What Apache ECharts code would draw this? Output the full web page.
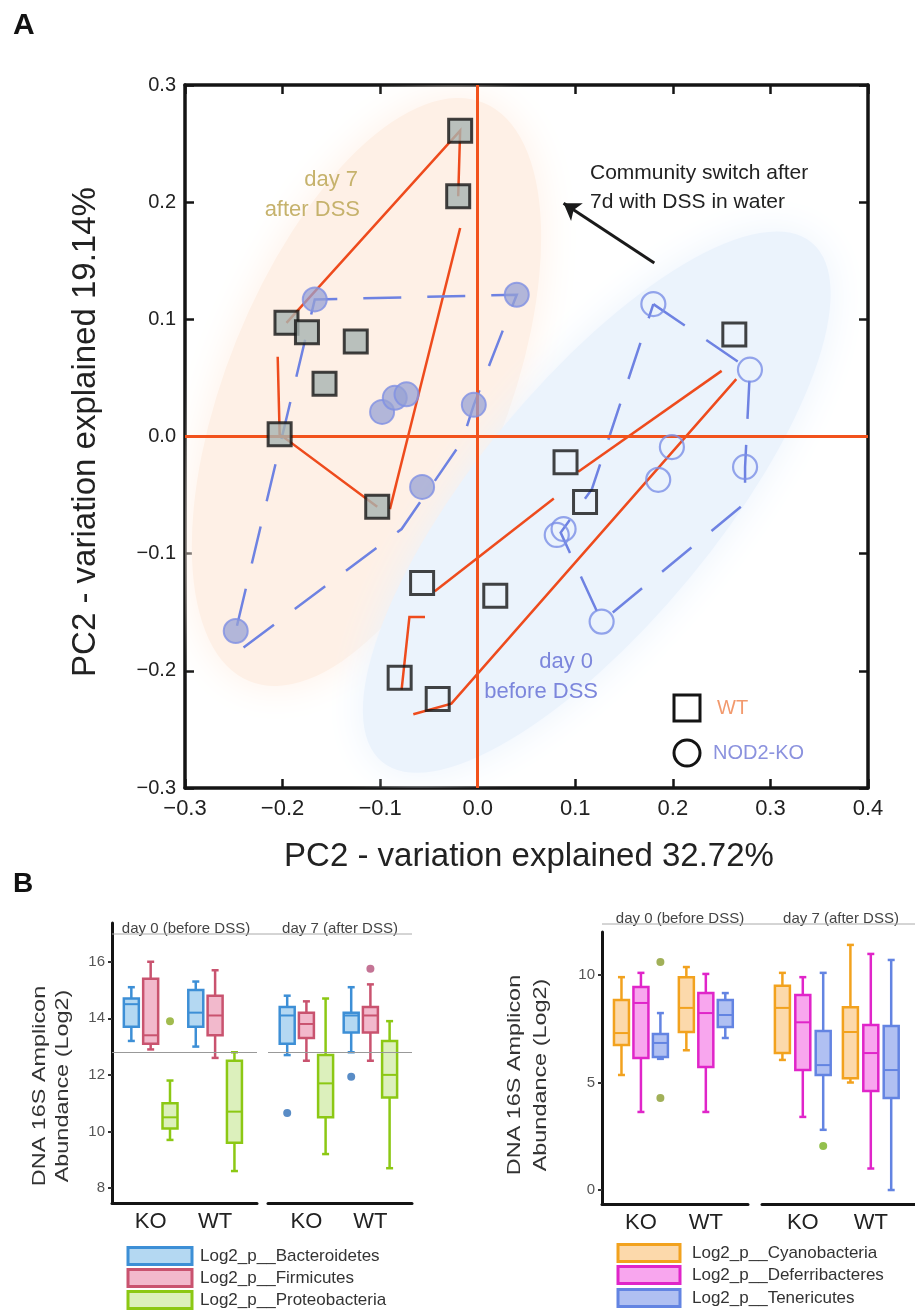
<!DOCTYPE html>
<html>
<head>
<meta charset="utf-8">
<script src="https://cdn.jsdelivr.net/npm/echarts@6/dist/echarts.min.js"></script>
<style>
  html, body { margin: 0; padding: 0; background: #fff; }
  #chart { width: 915px; height: 1311px; }
</style>
</head>
<body>
<div id="chart"></div>
<script>
// ---------- panel A : PCoA coordinates ----------
const wtDay7 = [[-0.018, 0.261], [-0.02, 0.205], [-0.196, 0.097], [-0.175, 0.089], [-0.125, 0.081],
  [-0.157, 0.045], [-0.203, 0.002], [-0.103, -0.06]];
const wtDay0 = [[0.263, 0.087], [0.09, -0.022], [0.11, -0.056], [0.018, -0.136], [-0.057, -0.125],
  [-0.08, -0.206], [-0.041, -0.224]];
const koDay7 = [[-0.167, 0.117], [0.04, 0.121], [-0.004, 0.027], [-0.098, 0.021], [-0.085, 0.033],
  [-0.073, 0.036], [-0.057, -0.043], [-0.248, -0.166]];
const koDay0 = [[0.18, 0.113], [0.279, 0.057], [0.199, -0.009], [0.274, -0.026], [0.185, -0.037],
  [0.088, -0.079], [0.081, -0.084], [0.127, -0.158]];
// WT paths (red) and KO outlines (blue dashed)
const wtLinks = [
  [[-0.196, 0.097], [-0.018, 0.261], [-0.02, 0.205]],
  [[-0.018, 0.178], [-0.09, -0.062]],
  [[-0.205, 0.068], [-0.203, 0.002], [-0.103, -0.06]],
  [[0.103, -0.03], [0.25, 0.056]],
  [[-0.044, -0.132], [0.078, -0.053]],
  [[0.265, 0.049], [-0.027, -0.228], [-0.066, -0.237]],
  [[-0.054, -0.154], [-0.07, -0.154], [-0.078, -0.216]]
];
const koDay7Outline = [[-0.24, -0.18], [-0.078, -0.079], [-0.016, -0.004], [-0.004, 0.027], [0.04, 0.121],
  [-0.167, 0.117], [-0.248, -0.166]];
const koDay0Outline = [[0.18, 0.113], [0.279, 0.057], [0.274, -0.026], [0.274, -0.057], [0.127, -0.158],
  [0.085, -0.082], [0.117, -0.045], [0.18, 0.113]];
const day7Centroid = [-0.114, 0.038];
const day0Centroid = [0.122, -0.056];
const switchArrow = [[0.181, 0.148], [0.088, 0.199]];
const pcTicks = { xMin: -0.3, xMax: 0.4, yMin: -0.3, yMax: 0.3, step: 0.1 };

// ---------- panel B : boxplots [low, q1, median, q3, high], rows = KO, WT ----------
const groupLabels = ['KO', 'WT'];
const bactDay0 = [[13.2, 13.7, 14.5, 14.7, 15.1], [13.0, 13.7, 14.2, 15.0, 15.3]];
const firmDay0 = [[12.9, 13.1, 13.4, 15.4, 16.0], [12.6, 13.4, 14.1, 14.8, 15.7]];
const protDay0 = [[9.7, 10.1, 10.5, 11.0, 11.8], [8.6, 9.6, 10.7, 12.5, 12.8]];
const bactDay7 = [[12.7, 13.1, 14.1, 14.4, 14.8], [12.8, 13.5, 14.1, 14.2, 15.1]];
const firmDay7 = [[12.5, 13.3, 13.8, 14.2, 14.6], [12.5, 13.5, 14.1, 14.4, 15.2]];
const protDay7 = [[9.2, 10.5, 11.7, 12.7, 14.7], [8.7, 11.2, 12.0, 13.2, 13.9]];
const protDay0Out = [[0, 13.9]];
const bactDay7Out = [[0, 10.65], [1, 11.93]];
const firmDay7Out = [[1, 15.75]];
const leftRefLine = 12.8;
const leftTicks = [8, 10, 12, 14, 16];

const cyanoDay0 = [[5.35, 6.74, 7.3, 8.84, 9.9], [6.5, 7.35, 8.47, 9.9, 10.37]];
const deferDay0 = [[3.63, 6.14, 8.7, 9.44, 10.1], [3.63, 5.72, 8.23, 9.16, 10.05]];
const teneDay0 = [[6.1, 6.19, 6.84, 7.26, 8.23], [7.07, 7.58, 8.14, 8.84, 9.16]];
const cyanoDay7 = [[6.05, 6.37, 8.47, 9.5, 10.1], [5.0, 5.2, 7.35, 8.5, 11.4]];
const deferDay7 = [[3.4, 5.58, 7.8, 9.07, 9.9], [1.0, 4.6, 6.37, 7.67, 10.98]];
const teneDay7 = [[2.8, 5.35, 5.81, 7.4, 10.1], [0.0, 4.28, 5.58, 7.63, 10.7]];
const teneDay0Out = [[0, 10.6], [0, 4.28]];
const teneDay7Out = [[0, 2.05]];
const rightTicks = [0, 5, 10];

const FONT = '"Liberation Sans", Arial, sans-serif';
const trio = [-0.3, 0, 0.3];
const colors = {
  bact: { line: '#3d8fd6', fill: '#b4d8f2' },
  firm: { line: '#c9536f', fill: '#f2b9cc' },
  prot: { line: '#8cc814', fill: '#dcf0bc' },
  cyano: { line: '#f2a21e', fill: '#fcd9ab' },
  defer: { line: '#e025c9', fill: '#f8a6ee' },
  tene: { line: '#6384e2', fill: '#b0c0f2' }
};

const chart = echarts.init(document.getElementById('chart'));

const fmtPC = v => (v < -1e-9 ? '\u2212' : '') + Math.abs(v).toFixed(1);

function pcAxis(pos, isX, showLabel) {
  return {
    gridIndex: 0, type: 'value', position: pos,
    min: isX ? pcTicks.xMin : pcTicks.yMin, max: isX ? pcTicks.xMax : pcTicks.yMax, interval: pcTicks.step,
    axisLine: { show: true, onZero: false, lineStyle: { color: '#141414', width: 3.5 } },
    axisTick: { show: true, inside: true, length: 9, lineStyle: { color: '#141414', width: 2.5 } },
    axisLabel: { show: showLabel, formatter: fmtPC, color: '#222', fontFamily: FONT,
      fontSize: isX ? 22 : 20, margin: isX ? 10 : 9, showMinLabel: true, showMaxLabel: true },
    splitLine: { show: false }
  };
}

function facetX(gi) {
  return {
    gridIndex: gi, type: 'value', min: -0.6, max: 1.65,
    axisLine: { show: true, onZero: false, lineStyle: { color: '#141414', width: 3 } },
    axisTick: { show: false }, splitLine: { show: false },
    axisLabel: { customValues: [0, 1], formatter: v => groupLabels[Math.round(v)],
      color: '#222', fontSize: 22, fontFamily: FONT, margin: 8 }
  };
}

function facetY(gi, min, max, ticks, show) {
  return {
    gridIndex: gi, type: 'value', min: min, max: max, show: show,
    axisLine: { show: true, onZero: false, lineStyle: { color: '#141414', width: 3 } },
    axisTick: { show: true, customValues: ticks, length: 4, lineStyle: { color: '#333', width: 2 } },
    axisLabel: { customValues: ticks, color: '#555', fontSize: 15, fontFamily: FONT, margin: 7 },
    splitLine: { show: false }
  };
}

function boxSeries(ax, rows, slot, col) {
  return {
    type: 'custom', xAxisIndex: ax, yAxisIndex: ax, z: 3, silent: true,
    data: rows.map((r, i) => [i + trio[slot]].concat(r)),
    renderItem: function (params, api) {
      const x = api.coord([api.value(0), api.value(3)])[0];
      const y = [1, 2, 3, 4, 5].map(k => api.coord([api.value(0), api.value(k)])[1]);
      const w = 15, cap = 7;
      const ln = (x1, y1, x2, y2, lw) => ({ type: 'line', shape: { x1: x1, y1: y1, x2: x2, y2: y2 },
        style: { stroke: col.line, lineWidth: lw || 2.5 } });
      return { type: 'group', children: [
        ln(x, y[0], x, y[1]), ln(x, y[3], x, y[4]),
        ln(x - cap / 2, y[0], x + cap / 2, y[0]), ln(x - cap / 2, y[4], x + cap / 2, y[4]),
        { type: 'rect', shape: { x: x - w / 2, y: y[3], width: w, height: y[1] - y[3] },
          style: { fill: col.fill, stroke: col.line, lineWidth: 2.5 } },
        ln(x - w / 2, y[2], x + w / 2, y[2], 2)
      ] };
    }
  };
}

function outlierSeries(ax, pts, slot, color) {
  return {
    type: 'scatter', xAxisIndex: ax, yAxisIndex: ax, z: 4, silent: true, symbolSize: 8,
    itemStyle: { color: color }, data: pts.map(p => [p[0] + trio[slot], p[1]])
  };
}

function refLine(ax) {
  return {
    type: 'scatter', xAxisIndex: ax, yAxisIndex: ax, data: [], z: 2,
    markLine: { silent: true, symbol: 'none', label: { show: false },
      lineStyle: { color: '#999', width: 1.2, type: 'solid' }, data: [{ yAxis: leftRefLine }] }
  };
}

function ellipse(center, a, b, deg, color) {
  return {
    type: 'custom', xAxisIndex: 0, yAxisIndex: 0, z: 1, silent: true, clip: true,
    data: [center],
    renderItem: function (params, api) {
      const c = api.coord([api.value(0), api.value(1)]);
      return { type: 'circle', x: c[0], y: c[1], shape: { cx: 0, cy: 0, r: a },
        scaleX: 1, scaleY: b / a, rotation: deg * Math.PI / 180,
        style: { fill: color, shadowBlur: 40, shadowColor: color } };
    }
  };
}

const txt = (text, x, y, size, color, align, extra) => Object.assign({
  type: 'text', x: x, y: y, z: 100, silent: true,
  style: { text: text, font: size + 'px ' + FONT, fill: color, textAlign: align || 'left', textVerticalAlign: 'middle' }
}, extra || {});

const legendBox = (x, y, w, h, col) => ({ type: 'rect', z: 100, shape: { x: x, y: y - h / 2, width: w, height: h },
  style: { fill: col.fill, stroke: col.line, lineWidth: 3 } });

const option = {
  animation: false,
  backgroundColor: '#fff',
  grid: [
    { left: 185, top: 85, width: 683, height: 703 },
    { left: 112, top: 923, width: 145, height: 280 },
    { left: 268, top: 923, width: 144, height: 280 },
    { left: 602, top: 932, width: 146, height: 272 },
    { left: 762, top: 932, width: 153, height: 272 }
  ],
  xAxis: [
    pcAxis('bottom', true, true), pcAxis('top', true, false),
    facetX(1), facetX(2), facetX(3), facetX(4)
  ],
  yAxis: [
    pcAxis('left', false, true), pcAxis('right', false, false),
    facetY(1, 7.47, 17.37, leftTicks, true), facetY(2, 7.47, 17.37, leftTicks, false),
    facetY(3, -0.65, 12, rightTicks, true), facetY(4, -0.65, 12, rightTicks, false)
  ],
  series: [
    ellipse(day7Centroid, 312, 140, 68, '#fef0e6'),
    ellipse(day0Centroid, 337, 120, 50.4, '#ebf3fc'),
    {
      type: 'scatter', xAxisIndex: 0, yAxisIndex: 0, data: [], z: 2,
      markLine: { silent: true, symbol: 'none', label: { show: false },
        lineStyle: { color: '#f2521c', width: 3, type: 'solid' }, data: [{ xAxis: 0 }, { yAxis: 0 }] }
    },
    {
      type: 'lines', coordinateSystem: 'cartesian2d', xAxisIndex: 0, yAxisIndex: 0, polyline: true, z: 3,
      silent: true, lineStyle: { color: '#ee4b1d', width: 2.5, opacity: 1 },
      data: wtLinks.map(c => ({ coords: c }))
    },
    {
      type: 'lines', coordinateSystem: 'cartesian2d', xAxisIndex: 0, yAxisIndex: 0, polyline: true, z: 3,
      silent: true, lineStyle: { color: '#6e82e2', width: 2.5, opacity: 1, type: [38, 26] },
      data: [{ coords: koDay7Outline }, { coords: koDay0Outline }]
    },
    {
      type: 'lines', coordinateSystem: 'cartesian2d', xAxisIndex: 0, yAxisIndex: 0, z: 3, silent: true,
      symbol: ['none', 'arrow'], symbolSize: 16,
      lineStyle: { color: '#1a1a1a', width: 3, opacity: 1 },
      data: [{ coords: switchArrow }]
    },
    { type: 'scatter', xAxisIndex: 0, yAxisIndex: 0, z: 5, silent: true, symbol: 'circle', symbolSize: 24,
      itemStyle: { color: 'rgba(150,162,212,0.92)', borderColor: '#7f90e4', borderWidth: 2 }, data: koDay7 },
    { type: 'scatter', xAxisIndex: 0, yAxisIndex: 0, z: 5, silent: true, symbol: 'circle', symbolSize: 24,
      itemStyle: { color: 'rgba(255,255,255,0)', borderColor: '#7b8fe6', borderWidth: 2.2 }, data: koDay0 },
    { type: 'scatter', xAxisIndex: 0, yAxisIndex: 0, z: 6, silent: true, symbol: 'rect', symbolSize: 23,
      itemStyle: { color: '#a8b4b2', borderColor: '#141414', borderWidth: 3 }, data: wtDay7 },
    { type: 'scatter', xAxisIndex: 0, yAxisIndex: 0, z: 6, silent: true, symbol: 'rect', symbolSize: 23,
      itemStyle: { color: 'rgba(255,255,255,0)', borderColor: '#141414', borderWidth: 3 }, data: wtDay0 },

    refLine(2), refLine(3),
    boxSeries(2, bactDay0, 0, colors.bact), boxSeries(2, firmDay0, 1, colors.firm), boxSeries(2, protDay0, 2, colors.prot),
    boxSeries(3, bactDay7, 0, colors.bact), boxSeries(3, firmDay7, 1, colors.firm), boxSeries(3, protDay7, 2, colors.prot),
    outlierSeries(2, protDay0Out, 2, '#8aaa22'),
    outlierSeries(3, bactDay7Out, 0, '#2f6fb8'),
    outlierSeries(3, firmDay7Out, 1, '#b5517a'),

    boxSeries(4, cyanoDay0, 0, colors.cyano), boxSeries(4, deferDay0, 1, colors.defer), boxSeries(4, teneDay0, 2, colors.tene),
    boxSeries(5, cyanoDay7, 0, colors.cyano), boxSeries(5, deferDay7, 1, colors.defer), boxSeries(5, teneDay7, 2, colors.tene),
    outlierSeries(4, teneDay0Out, 2, '#8a9c2e'),
    outlierSeries(5, teneDay7Out, 2, '#78b020')
  ],
  graphic: [
    txt('A', 13, 26, 30, '#111', 'left', { style: { text: 'A', font: 'bold 30px ' + FONT, fill: '#111', textVerticalAlign: 'middle' } }),
    txt('B', 13, 884, 28, '#111', 'left', { style: { text: 'B', font: 'bold 28px ' + FONT, fill: '#111', textVerticalAlign: 'middle' } }),
    txt('PC2 - variation explained 19.14%', 86, 432, 33, '#222', 'center', { rotation: Math.PI / 2 }),
    txt('PC2 - variation explained 32.72%', 529, 857, 33, '#222', 'center'),
    txt('day 7', 358, 180, 22, '#c6b26c', 'right'),
    txt('after DSS', 360, 210, 22, '#c6b26c', 'right'),
    txt('day 0', 593, 662, 22, '#7c86dc', 'right'),
    txt('before DSS', 598, 692, 22, '#7c86dc', 'right'),
    txt('Community switch after', 590, 173, 21, '#222', 'left'),
    txt('7d with DSS in water', 590, 202, 21, '#222', 'left'),
    { type: 'rect', z: 100, silent: true, shape: { x: 674, y: 695, width: 26, height: 26 },
      style: { fill: 'none', stroke: '#141414', lineWidth: 3 } },
    txt('WT', 717, 708, 20, '#f29a6e', 'left'),
    { type: 'circle', z: 100, silent: true, shape: { cx: 687, cy: 753, r: 13 },
      style: { fill: 'none', stroke: '#141414', lineWidth: 3 } },
    txt('NOD2-KO', 713, 753, 20, '#8b92de', 'left'),

    // panel B strip labels
    txt('day 0 (before DSS)', 186, 929, 15, '#444', 'center'),
    txt('day 7 (after DSS)', 340, 929, 15, '#444', 'center'),
    { type: 'line', z: 100, silent: true, shape: { x1: 112, y1: 934, x2: 412, y2: 934 }, style: { stroke: '#aaa', lineWidth: 1 } },
    txt('day 0 (before DSS)', 680, 919, 15, '#444', 'center'),
    txt('day 7 (after DSS)', 841, 919, 15, '#444', 'center'),
    { type: 'line', z: 100, silent: true, shape: { x1: 602, y1: 924, x2: 915, y2: 924 }, style: { stroke: '#aaa', lineWidth: 1 } },

    // panel B axis titles
    txt('DNA 16S Amplicon', 40, 1086, 18, '#333', 'center', { rotation: Math.PI / 2, scaleX: 1.3 }),
    txt('Abundance (Log2)', 63, 1086, 18, '#333', 'center', { rotation: Math.PI / 2, scaleX: 1.3 }),
    txt('DNA 16S Amplicon', 515, 1075, 18, '#333', 'center', { rotation: Math.PI / 2, scaleX: 1.3 }),
    txt('Abundance (Log2)', 541, 1075, 18, '#333', 'center', { rotation: Math.PI / 2, scaleX: 1.3 }),

    // panel B legends
    legendBox(128, 1256, 64, 17, colors.bact), txt('Log2_p__Bacteroidetes', 200, 1256, 17, '#333'),
    legendBox(128, 1278, 64, 17, colors.firm), txt('Log2_p__Firmicutes', 200, 1278, 17, '#333'),
    legendBox(128, 1300, 64, 17, colors.prot), txt('Log2_p__Proteobacteria', 200, 1300, 17, '#333'),
    legendBox(618, 1253, 62, 17, colors.cyano), txt('Log2_p__Cyanobacteria', 692, 1253, 17, '#333'),
    legendBox(618, 1275, 62, 17, colors.defer), txt('Log2_p__Deferribacteres', 692, 1275, 17, '#333'),
    legendBox(618, 1298, 62, 17, colors.tene), txt('Log2_p__Tenericutes', 692, 1298, 17, '#333')
  ]
};

chart.setOption(option);
</script>
</body>
</html>
